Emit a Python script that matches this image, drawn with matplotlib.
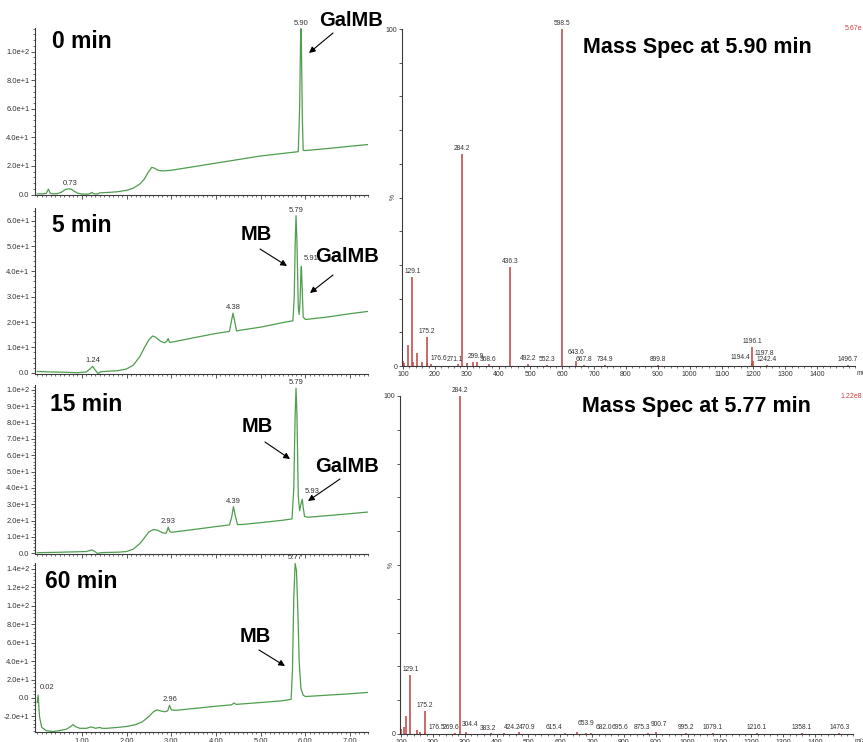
import numpy as np
import matplotlib
matplotlib.use("Agg")
import matplotlib.pyplot as plt
from matplotlib.ticker import MultipleLocator, AutoMinorLocator

plt.rcParams['font.family'] = ['Liberation Sans', 'DejaVu Sans']

# ------------------------------------------------------------------ data
panel_titles = ["0 min", "5 min", "15 min", "60 min"]

# chromatogram traces (retention time in min, signal)
t_0min = [0.00, 0.12, 0.20, 0.25, 0.29, 0.35, 0.45, 0.55, 0.63, 0.70, 0.76, 0.82, 0.90, 1.00,
          1.12, 1.18, 1.22, 1.27, 1.35, 1.40, 1.60, 1.80, 2.00, 2.15, 2.30, 2.40, 2.48, 2.56,
          2.62, 2.70, 2.80, 3.00, 3.50, 4.00, 4.50, 5.00, 5.50, 5.84, 5.87, 5.89, 5.90, 5.91,
          5.93, 5.95, 6.00, 6.50, 7.00, 7.40]
s_0min = [0.5, 0.5, 0.8, 3.8, 1.0, 0.5, 0.6, 1.8, 3.6, 4.0, 3.8, 2.5, 1.0, 0.4,
          0.3, 0.6, 1.5, 0.5, 0.4, 1.2, 1.5, 2.0, 3.0, 4.5, 7.5, 11.0, 15.5, 19.0,
          18.5, 17.0, 16.5, 17.0, 19.5, 22.0, 24.5, 27.0, 28.8, 30.0, 60.0, 105.0, 116.0, 105.0,
          55.0, 31.0, 30.8, 32.2, 33.8, 35.0]

t_5min = [0.00, 0.30, 0.60, 0.90, 1.10, 1.18, 1.24, 1.30, 1.36, 1.42, 1.50, 1.80, 2.00, 2.15,
          2.30, 2.40, 2.50, 2.58, 2.65, 2.75, 2.85, 2.90, 2.93, 2.96, 3.05, 3.50, 4.00, 4.30,
          4.34, 4.38, 4.42, 4.46, 4.55, 5.00, 5.50, 5.72, 5.75, 5.77, 5.79, 5.81, 5.84, 5.86,
          5.88, 5.90, 5.91, 5.93, 5.95, 6.00, 6.50, 7.00, 7.40]
s_5min = [0.5, 0.3, 0.2, 0.0, 0.3, 1.5, 2.5, 1.0, -0.3, 0.4, 0.5, 0.8, 1.5, 3.0,
          6.5, 10.0, 13.0, 14.5, 14.0, 12.5, 11.8, 12.5, 13.5, 12.0, 12.2, 13.8, 15.5, 16.3,
          20.0, 23.5, 20.0, 16.5, 16.8, 18.0, 19.8, 20.5, 30.0, 50.0, 62.0, 52.0, 26.0, 23.0,
          28.0, 40.0, 42.0, 32.0, 22.0, 21.0, 22.0, 23.3, 24.2]

t_15min = [0.00, 0.40, 0.80, 1.10, 1.17, 1.22, 1.28, 1.35, 1.42, 1.50, 1.80, 2.00, 2.15, 2.30,
           2.40, 2.50, 2.60, 2.70, 2.80, 2.88, 2.91, 2.93, 2.96, 3.00, 3.50, 4.00, 4.30, 4.35,
           4.39, 4.43, 4.48, 4.60, 5.00, 5.50, 5.70, 5.74, 5.77, 5.79, 5.81, 5.84, 5.87, 5.90,
           5.93, 5.95, 5.98, 6.05, 6.50, 7.00, 7.40]
s_15min = [0.3, 0.5, 0.8, 1.0, 1.6, 2.0, 1.2, -0.2, 0.3, 0.4, 0.6, 1.0, 2.5, 6.0,
           9.5, 13.0, 14.5, 14.0, 12.5, 12.2, 14.0, 16.0, 13.5, 12.8, 14.5, 16.3, 17.3, 22.0,
           28.5, 23.0, 17.5, 17.6, 18.7, 20.2, 21.0, 40.0, 85.0, 101.0, 85.0, 35.0, 26.0, 30.0,
           33.0, 28.0, 22.5, 22.0, 23.0, 24.2, 25.2]

t_60min = [0.00, 0.02, 0.05, 0.10, 0.20, 0.35, 0.50, 0.65, 0.75, 0.80, 0.85, 0.95, 1.10, 1.20,
           1.25, 1.30, 1.40, 1.45, 1.55, 1.80, 2.00, 2.20, 2.35, 2.50, 2.60, 2.68, 2.75, 2.85,
           2.92, 2.96, 3.00, 3.10, 3.50, 4.00, 4.35, 4.40, 4.45, 5.00, 5.50, 5.68, 5.71, 5.74,
           5.77, 5.80, 5.83, 5.86, 5.90, 5.95, 6.00, 6.50, 7.00, 7.40]
s_60min = [-5.0, 3.0, -20.0, -32.0, -35.5, -36.5, -35.5, -34.0, -31.0, -29.0, -31.0, -33.0, -33.0, -31.5,
           -32.0, -33.0, -32.0, -33.0, -33.0, -32.0, -31.0, -29.0, -26.0, -20.0, -15.0, -13.0, -14.0, -15.0,
           -14.0, -8.0, -13.0, -13.5, -11.5, -9.0, -7.5, -5.5, -7.0, -5.0, -3.0, -1.5, 30.0, 110.0,
           146.0, 138.0, 95.0, 40.0, 10.0, 3.0, 1.5, 3.0, 4.5, 6.0]

# peak retention-time labels
peaks_0min = ["0.73", "5.90"]
peaks_5min = ["1.24", "4.38", "5.79", "5.91"]
peaks_15min = ["2.93", "4.39", "5.79", "5.93"]
peaks_60min = ["0.02", "2.96", "5.77"]

# y-axis ticks of the chromatograms
yticks_0min = [0, 20, 40, 60, 80, 100]
ylabels_0min = ["0.0", "2.0e+1", "4.0e+1", "6.0e+1", "8.0e+1", "1.0e+2"]
yticks_5min = [0, 10, 20, 30, 40, 50, 60]
ylabels_5min = ["0.0", "1.0e+1", "2.0e+1", "3.0e+1", "4.0e+1", "5.0e+1", "6.0e+1"]
yticks_15min = [0, 10, 20, 30, 40, 50, 60, 70, 80, 90, 100]
ylabels_15min = ["0.0", "1.0e+1", "2.0e+1", "3.0e+1", "4.0e+1", "5.0e+1", "6.0e+1",
                 "7.0e+1", "8.0e+1", "9.0e+1", "1.0e+2"]
yticks_60min = [-20, 0, 20, 40, 60, 80, 100, 120, 140]
ylabels_60min = ["-2.0e+1", "0.0", "2.0e+1", "4.0e+1", "6.0e+1", "8.0e+1", "1.0e+2",
                 "1.2e+2", "1.4e+2"]
time_ticks = [1, 2, 3, 4, 5, 6, 7]
time_ticklabels = ["1.00", "2.00", "3.00", "4.00", "5.00", "6.00", "7.00"]

# mass spectra (m/z, relative intensity %)
ms1_title = "Mass Spec at 5.90 min"
ms1_scale = "5.67e"
ms1_mz = [101.0, 103.2, 115.1, 129.1, 131.1, 144.1, 160.9, 175.2, 176.6, 189.0, 271.1, 284.2,
          299.9, 321.2, 331.0, 368.6, 436.3, 492.2, 552.3, 598.5, 643.6, 667.8, 734.9, 899.8,
          1194.4, 1196.1, 1197.8, 1242.4, 1496.7]
ms1_int = [1.6, 0.8, 6.2, 26.4, 1.2, 3.8, 1.3, 8.6, 0.8, 0.5, 0.5, 63.0,
           1.0, 1.2, 1.1, 0.5, 29.4, 0.7, 0.4, 100.0, 1.6, 0.4, 0.3, 0.3,
           0.9, 5.6, 1.6, 0.4, 0.3]
ms1_labels = ["129.1", "175.2", "176.6", "271.1", "284.2", "299.9", "368.6", "436.3", "492.2",
              "552.3", "598.5", "643.6", "667.8", "734.9", "899.8", "1194.4", "1196.1",
              "1197.8", "1242.4", "1496.7"]

ms2_title = "Mass Spec at 5.77 min"
ms2_scale = "1.22e8"
ms2_mz = [101.0, 110.0, 115.1, 129.1, 149.0, 160.0, 175.2, 176.5, 269.6, 284.2, 304.4, 383.2,
          424.2, 470.9, 615.4, 653.9, 682.0, 695.6, 875.3, 900.7, 995.2, 1079.1, 1216.1,
          1358.1, 1476.3]
ms2_int = [1.5, 2.0, 5.4, 17.6, 1.2, 0.5, 6.9, 0.5, 0.4, 100.0, 0.6, 0.3,
           0.4, 0.5, 0.3, 0.5, 0.3, 0.4, 0.3, 0.6, 0.3, 0.3, 0.3,
           0.3, 0.3]
ms2_labels = ["129.1", "175.2", "176.5", "269.6", "284.2", "304.4", "383.2", "424.2", "470.9",
              "615.4", "653.9", "682.0", "695.6", "875.3", "900.7", "995.2", "1079.1",
              "1216.1", "1358.1", "1476.3"]
ms_xticks = [100, 200, 300, 400, 500, 600, 700, 800, 900, 1000, 1100, 1200, 1300, 1400]

# ------------------------------------------------------------------ figure
W, H = 863, 742
fig = plt.figure(figsize=(W / 100, H / 100), dpi=100)
fig.patch.set_facecolor('white')


def rect(x0, y_top, x1, y_bot):
    return [x0 / W, 1 - y_bot / H, (x1 - x0) / W, (y_bot - y_top) / H]


def fp(x, y):
    return (x / W, 1 - y / H)


green = '#4f9d4f'
red = '#c24f4f'
axcol = '#3a3a3a'
txtcol = '#333333'

chrom = [
    (t_0min, s_0min, peaks_0min, yticks_0min, ylabels_0min, rect(35, 28, 368, 195), (-0.3, 116.5)),
    (t_5min, s_5min, peaks_5min, yticks_5min, ylabels_5min, rect(35, 208, 368, 374), (-0.5, 65.0)),
    (t_15min, s_15min, peaks_15min, yticks_15min, ylabels_15min, rect(35, 385, 368, 554), (-0.5, 103.0)),
    (t_60min, s_60min, peaks_60min, yticks_60min, ylabels_60min, rect(35, 563, 368, 732), (-37.0, 146.5)),
]
title_pos = [(52, 42), (52, 226), (50, 404), (45, 582)]

for k, (tt, ss, pk, yt, yl, r, ylim) in enumerate(chrom):
    ax = fig.add_axes(r)
    ax.set_facecolor('none')
    ax.plot(tt, ss, color=green, lw=0.9, solid_joinstyle='round')
    ax.set_xlim(-0.05, 7.40)
    ax.set_ylim(*ylim)
    for s in ['top', 'right']:
        ax.spines[s].set_visible(False)
    for s in ['left', 'bottom']:
        ax.spines[s].set_color(axcol)
        ax.spines[s].set_linewidth(0.8)
    ax.set_yticks(yt)
    ax.set_yticklabels(yl)
    ax.yaxis.set_minor_locator(AutoMinorLocator(5))
    ax.set_xticks(time_ticks)
    ax.xaxis.set_minor_locator(MultipleLocator(0.1))
    if k == 3:
        ax.set_xticklabels(time_ticklabels)
    else:
        ax.set_xticklabels([])
    ax.tick_params(axis='both', which='major', length=3, width=0.6, colors=axcol,
                   labelsize=5.4, labelcolor=txtcol, pad=1)
    ax.tick_params(axis='both', which='minor', length=1.6, width=0.5, colors=axcol)
    for lab in pk:
        tv = float(lab)
        yv = np.interp(tv, tt, ss)
        if lab in ("5.91", "5.93", "0.02"):
            ax.annotate(lab, (tv, yv), xytext=(1.5, 3), textcoords='offset points',
                        ha='left', va='bottom', fontsize=5.5, color=txtcol, annotation_clip=False)
        else:
            ax.annotate(lab, (tv, yv), xytext=(0, 1.5), textcoords='offset points',
                        ha='center', va='bottom', fontsize=5.5, color=txtcol, annotation_clip=False)
    x0, y0 = title_pos[k]
    fig.text(*fp(x0, y0), panel_titles[k], ha='left', va='center', fontsize=16.5,
             fontweight='bold', color='black')

# compound labels and arrows (figure pixels)
compound_labels = [
    ("GalMB", (351, 20), (333, 33), (309, 53)),
    ("MB", (256, 234), (260, 249), (287, 266)),
    ("GalMB", (347, 256), (333, 275), (310, 293)),
    ("MB", (257, 427), (265, 442), (290, 459)),
    ("GalMB", (347, 467), (340, 479), (308, 501)),
    ("MB", (255, 636), (259, 650), (285, 666)),
]
for name, tpos, tail, tip in compound_labels:
    fig.text(*fp(*tpos), name, ha='center', va='center', fontsize=14.5, fontweight='bold')
    fig.add_artist(matplotlib.patches.FancyArrowPatch(
        fp(*tail), fp(*tip), transform=fig.transFigure, arrowstyle='-|>',
        mutation_scale=9, lw=0.8, color='black', shrinkA=0, shrinkB=0))

# label nudges (points) for crowded spectrum annotations
label_nudge = {"1194.4": (-1, 1.2, 'right'), "1197.8": (1, 2.5, 'left'),
               "176.6": (2, 1.2, 'left'), "176.5": (2, 1.2, 'left'),
               "271.1": (-2, 1.2, 'center'), "299.9": (1, 2.0, 'left'),
               "643.6": (0, 3.5, 'center'), "653.9": (0, 3.5, 'left'),
               "682.0": (7, 1.2, 'left'), "695.6": (15, 1.2, 'left'),
               "615.4": (-2, 1.2, 'right'), "900.7": (2, 3.0, 'center'),
               "875.3": (-4, 1.2, 'center'), "383.2": (-2, 0.5, 'center'),
               "424.2": (0, 1.2, 'left'), "470.9": (0, 1.2, 'left'),
               "269.6": (-3, 1.2, 'center'), "304.4": (3, 3.0, 'center')}

# ------------------------------------------------------------------ mass spectra
spectra = [
    (ms1_mz, ms1_int, ms1_labels, ms1_title, ms1_scale, rect(402.4, 29, 855.3, 366), 583, 47, 28),
    (ms2_mz, ms2_int, ms2_labels, ms2_title, ms2_scale, rect(400.4, 396, 853.3, 734), 582, 407, 396),
]
for mz, inten, labs, title, scale, r, tx, ty, sy in spectra:
    ax = fig.add_axes(r)
    ax.set_facecolor('none')
    ax.vlines(mz, 0, inten, color=red, lw=1.2)
    ax.set_xlim(98, 1520)
    ax.set_ylim(0, 100)
    for s in ['top', 'right']:
        ax.spines[s].set_visible(False)
    for s in ['left', 'bottom']:
        ax.spines[s].set_color(axcol)
        ax.spines[s].set_linewidth(0.8)
    ax.set_yticks(list(range(0, 101, 10)))
    ax.set_yticklabels(['0'] + [''] * 9 + ['100'])
    ax.set_xticks(ms_xticks)
    ax.set_xticklabels([str(v) for v in ms_xticks])
    ax.xaxis.set_minor_locator(MultipleLocator(20))
    ax.tick_params(axis='both', which='major', length=2.5, width=0.6, colors=axcol,
                   labelsize=5, labelcolor=txtcol, pad=1)
    ax.tick_params(axis='x', which='minor', length=1.5, width=0.5, colors=axcol)
    ax.text(-0.012, 0.5, '%', transform=ax.transAxes, rotation=90, fontsize=4.8,
            ha='right', va='center', color=txtcol)
    ax.text(1.002, -0.012, 'm/z', transform=ax.transAxes, fontsize=4.8, ha='left',
            va='top', color=txtcol, clip_on=False)
    for lab in labs:
        m = float(lab)
        h = inten[int(np.argmin(np.abs(np.array(mz) - m)))]
        dx, dy, ha = label_nudge.get(lab, (0, 1.2, 'center'))
        ax.annotate(lab, (m, h), xytext=(dx, dy), textcoords='offset points', ha=ha,
                    va='bottom', fontsize=4.8, color=txtcol, annotation_clip=False)
    fig.text(*fp(tx, ty), title, ha='left', va='center', fontsize=15.5, fontweight='bold')
    fig.text(*fp(862, sy), scale, ha='right', va='center', fontsize=5, color='#d04040')

fig.savefig('out.png', dpi=100, facecolor='white')
